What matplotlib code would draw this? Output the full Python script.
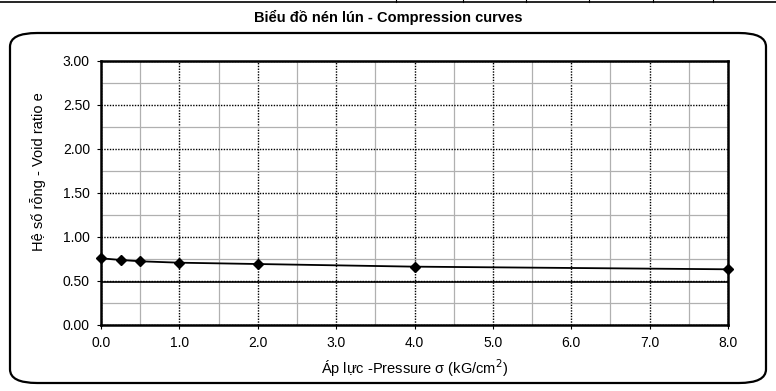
import matplotlib
matplotlib.use('Agg')
import matplotlib.pyplot as plt
from matplotlib.patches import FancyBboxPatch
from matplotlib.lines import Line2D
from matplotlib.ticker import MultipleLocator

# du lieu nen lun
pressure = [0.0, 0.25, 0.5, 1.0, 2.0, 4.0, 8.0]
void_ratio = [0.758, 0.739, 0.724, 0.708, 0.693, 0.663, 0.633]
ref_line = 0.49
x_ticks = [0, 1, 2, 3, 4, 5, 6, 7, 8]
y_ticks = [0.0, 0.5, 1.0, 1.5, 2.0, 2.5, 3.0]

plt.rcParams['font.family'] = ['Liberation Sans', 'DejaVu Sans']

fig = plt.figure(figsize=(7.76, 3.91), dpi=100)

# khung bo tron
box = FancyBboxPatch((10/776, 1-383/391), 756/776, 350/391,
                     boxstyle='round,pad=0,rounding_size=0.035',
                     transform=fig.transFigure, fill=False, lw=1.6, ec='black')
fig.patches.append(box)

# duong ke phia tren (phan bang)
fig.lines.append(Line2D([0, 1], [1-2/391, 1-2/391], transform=fig.transFigure, color='black', lw=1.2))
for px in [396, 463, 526, 589, 653, 713]:
    fig.lines.append(Line2D([px/776, px/776], [1-2/391, 1], transform=fig.transFigure, color='black', lw=0.8))

fig.text(0.5, 1-17/391, 'Biểu đồ nén lún - Compression curves', ha='center', va='center',
         fontsize=10.5, fontweight='bold')

ax = fig.add_axes([101/776, 1-325/391, 627/776, 264/391])
ax.set_xlim(0, 8)
ax.set_ylim(0, 3)
ax.set_xticks(x_ticks)
ax.set_yticks(y_ticks)
ax.set_xticklabels(['%.1f' % v for v in x_ticks])
ax.set_yticklabels(['%.2f' % v for v in y_ticks])
ax.xaxis.set_minor_locator(MultipleLocator(0.5))
ax.yaxis.set_minor_locator(MultipleLocator(0.25))
ax.grid(which='minor', color='#b0b0b0', lw=0.9, ls='-')
ax.grid(which='major', color='black', lw=1.0, ls=(0, (1, 1)))
ax.tick_params(which='minor', length=0)
ax.tick_params(which='major', length=3, labelsize=10, direction='out', pad=5)
for s in ax.spines.values():
    s.set_linewidth(1.8)
ax.set_axisbelow(True)

ax.axhline(ref_line, color='black', lw=1.2)
ax.plot(pressure, void_ratio, color='black', lw=1.3, marker='D', ms=5.5, mfc='black', mec='black', clip_on=False)

ax.set_xlabel('Áp lực -Pressure σ (kG/cm$^2$)', fontsize=10.5, labelpad=5)
ax.set_ylabel('Hệ số rỗng - Void ratio e', fontsize=10.5)
ax.yaxis.set_label_coords(-0.088, 0.58)

fig.savefig('out.png', dpi=100)
